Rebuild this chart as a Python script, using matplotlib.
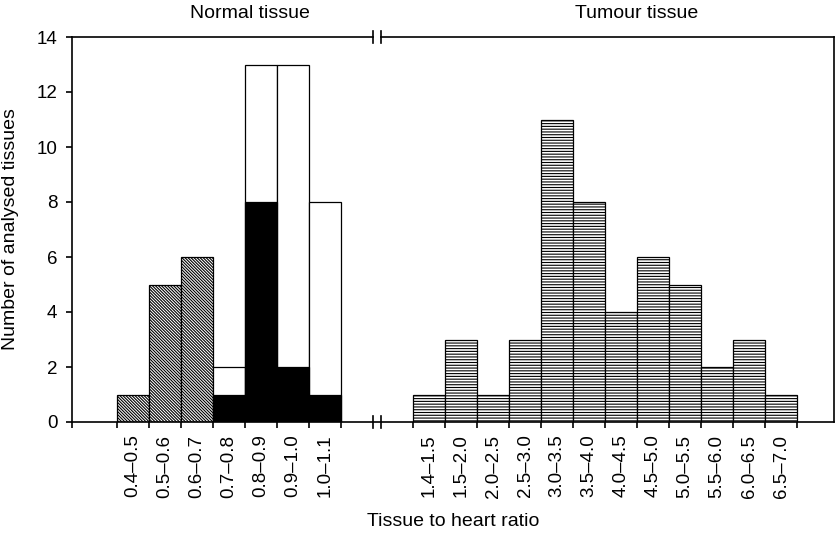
import numpy as np
import matplotlib.pyplot as plt

plt.rcParams['font.family'] = ['Liberation Sans', 'DejaVu Sans']
plt.rcParams['hatch.linewidth'] = 0.8

# normal tissue bins
normal_labels = ['0.4–0.5', '0.5–0.6', '0.6–0.7', '0.7–0.8',
                 '0.8–0.9', '0.9–1.0', '1.0–1.1']
normal_hatched = [1, 5, 6]          # first three bins, hatched
normal_black = [1, 8, 2, 1]         # last four bins, filled part
normal_total = [2, 13, 13, 8]       # last four bins, total height

# tumour tissue bins
tumour_labels = ['1.4–1.5', '1.5–2.0', '2.0–2.5', '2.5–3.0', '3.0–3.5',
                 '3.5–4.0', '4.0–4.5', '4.5–5.0', '5.0–5.5', '5.5–6.0',
                 '6.0–6.5', '6.5–7.0']
tumour_counts = [1, 3, 1, 3, 11, 8, 4, 6, 5, 2, 3, 1]

# layout (x in units of bar width)
x0_normal = 1.406
x0_tumour = 10.656
x_max = 23.81
break_x = [9.41, 9.66]

fig = plt.figure(figsize=(8.35, 5.33), dpi=100)
ax = fig.add_axes([72 / 835, 1 - 422 / 533, 762 / 835, 385 / 533])

xn = x0_normal + np.arange(len(normal_labels))
xt = x0_tumour + np.arange(len(tumour_labels))

lw = 0.9
ax.bar(xn[:3], normal_hatched, width=1, align='edge', color='white',
       edgecolor='black', hatch='\\' * 11, linewidth=lw)
ax.bar(xn[3:], normal_total, width=1, align='edge', color='white',
       edgecolor='black', linewidth=lw)
ax.bar(xn[3:], normal_black, width=1, align='edge', color='black',
       edgecolor='black', linewidth=lw)
ax.bar(xt, tumour_counts, width=1, align='edge', color='white',
       edgecolor='black', hatch='-' * 6, linewidth=lw)

ax.set_xlim(0, x_max)
ax.set_ylim(0, 14)
ax.set_yticks(np.arange(0, 15, 2))

edges = np.concatenate([[0], x0_normal + np.arange(len(normal_labels) + 1),
                        x0_tumour + np.arange(len(tumour_labels) + 1)])
ax.set_xticks(edges)
ax.set_xticklabels([])
ax.set_xticks(np.concatenate([xn, xt]) + 0.5, minor=True)
ax.set_xticklabels(normal_labels + tumour_labels, minor=True, rotation=90,
                   fontsize=13.5)
ax.tick_params(axis='x', which='minor', length=0, pad=9)
ax.tick_params(axis='x', which='major', direction='out', length=4.5,
               width=1.2)
ax.tick_params(axis='y', direction='out', length=4.5, width=1.2, pad=6,
               labelsize=13.5)

for s in ['left', 'bottom', 'right']:
    ax.spines[s].set_linewidth(1.2)
ax.spines['top'].set_visible(False)

# top spine with a gap at the break
tr = ax.get_xaxis_transform()
ax.plot([0, break_x[0]], [1, 1], color='black', lw=1.2, transform=tr,
        clip_on=False)
ax.plot([break_x[1], x_max], [1, 1], color='black', lw=1.2, transform=tr,
        clip_on=False)
for bx in break_x:
    for yy in [0, 1]:
        ax.plot([bx, bx], [yy - 0.016, yy + 0.016], color='black', lw=1.2,
                transform=tr, clip_on=False)

ax.set_xlabel('Tissue to heart ratio', fontsize=14)
ax.xaxis.set_label_coords(0.5, -0.236)
ax.set_ylabel('Number of analysed tissues', fontsize=14)
ax.yaxis.set_label_coords(-0.07, 0.5)

fig.text(250 / 835, 1 - 14 / 533, 'Normal tissue', ha='center',
         va='center', fontsize=14)
fig.text(637 / 835, 1 - 14 / 533, 'Tumour tissue', ha='center',
         va='center', fontsize=14)

fig.savefig('out.png', dpi=100)
